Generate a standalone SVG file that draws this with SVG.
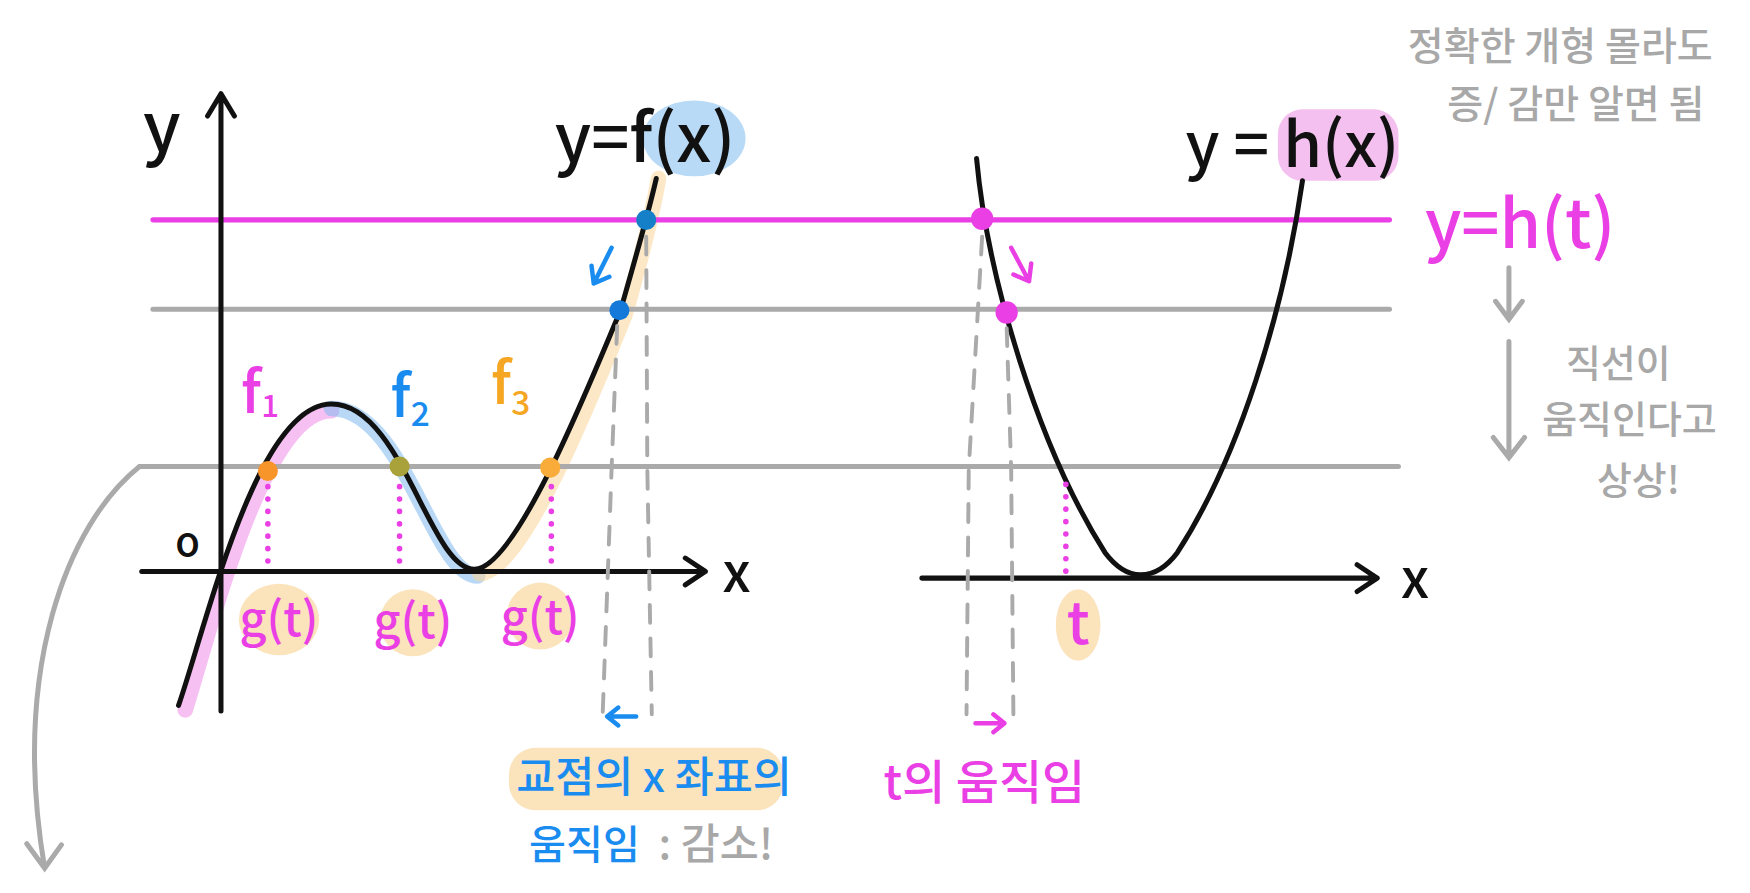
<svg xmlns="http://www.w3.org/2000/svg" width="1750" height="893" viewBox="0 0 1750 893">
<defs>
<style>
.ax{fill:none;stroke:#111;stroke-width:4.5;stroke-linecap:round;stroke-linejoin:round}
.crv{fill:none;stroke:#111;stroke-width:4.5;stroke-linecap:round}
.mg{fill:none;stroke:#ea3fe4;stroke-width:4.5;stroke-linecap:round}
.gr{fill:none;stroke:#aaaaaa;stroke-width:4.5;stroke-linecap:round}
.dash{fill:none;stroke:#aaaaaa;stroke-width:3.5;stroke-linecap:round;stroke-dasharray:16 14}
.dot{fill:none;stroke:#ea3fe4;stroke-width:5;stroke-linecap:round;stroke-dasharray:0.1 11}
.hl{fill:none;stroke-width:14;stroke-linecap:round;opacity:0.55}
.t{font-family:"Noto Sans CJK KR","Noto Sans",sans-serif;font-weight:500}
.blk{fill:#111}
.mgt{fill:#ea3fe4}
.blt{fill:#1a8cf0}
.grt{fill:#a8a8a8}
.ort{fill:#f5a623}
</style>
</defs>
<rect width="1750" height="893" fill="#ffffff"/>
<g transform="scale(1.11607)">
<g id="highlights">
<ellipse cx="622" cy="124" rx="46" ry="34" fill="#b9daf6"/>
<rect x="1145" y="98" width="108" height="64" rx="22" fill="#f4c0f0"/>
<ellipse cx="250" cy="555" rx="36" ry="32" fill="#fbe3bc"/>
<ellipse cx="370" cy="558" rx="30" ry="30" fill="#fbe3bc"/>
<ellipse cx="484" cy="552" rx="30" ry="30" fill="#fbe3bc"/>
<ellipse cx="966" cy="560" rx="20" ry="32" fill="#fbe3bc"/>
<rect x="456" y="670" width="246" height="56" rx="24" fill="#fbe3bc"/>
<path class="hl" stroke="#f08ce8" d="M166,636 C190,560 236,368 297,368"/>
<path class="hl" stroke="#7fb8ee" d="M297,366 C362,366 388,516 428,516"/>
<path class="hl" stroke="#f9d597" d="M430,514 C468,510 525,368 560,282 C572,240 584,196 590,160"/>
</g>
<g id="levels">
<line class="mg" x1="137" y1="197" x2="1245" y2="197"/>
<line class="gr" x1="137" y1="277" x2="1245" y2="277"/>
<line class="gr" x1="130" y1="418" x2="1253" y2="418"/>
</g>
<g id="left-axes">
<path class="ax" d="M198,637 L198,84 M186,104 L198,84 L210,104"/>
<path class="ax" d="M127,512 L632,512 M614,500 L632,512 L614,524"/>
<text class="t blk" x="145" y="136" font-size="62" text-anchor="middle">y</text>
<text class="t blk" x="660" y="530" font-size="48" text-anchor="middle">x</text>
<text class="t blk" x="168" y="498" font-size="36" text-anchor="middle">o</text>
</g>
<g id="curve-f">
<path class="crv" d="M160,632 C185,560 230,362 297,362 C360,362 385,510 425,510 C460,510 520,365 556,278 C568,236 580,195 588,160"/>
<text class="t blk" x="578" y="145" font-size="60" text-anchor="middle">y=f(x)</text>
</g>
<g id="right-axes">
<path class="ax" d="M826,518 L1234,518 M1216,506 L1234,518 L1216,530"/>
<text class="t blk" x="1268" y="536" font-size="48" text-anchor="middle">x</text>
</g>
<g id="curve-h">
<path class="crv" d="M875,142 C885,250 930,400 990,495 Q1005,515 1022,515 Q1040,515 1055,495 C1110,410 1150,280 1167,162"/>
<text class="t blk" x="1158" y="150" font-size="56" text-anchor="middle">y = h(x)</text>
</g>
<g id="connectors">
<line class="dot" x1="240" y1="436" x2="240" y2="510"/>
<line class="dot" x1="358" y1="436" x2="358" y2="510"/>
<line class="dot" x1="494" y1="436" x2="494" y2="510"/>
<line class="dot" x1="955" y1="434" x2="955" y2="512"/>
<path class="dash" d="M579,212 L580,420 L584,640"/>
<path class="dash" d="M553,292 L548,420 L540,640"/>
<path class="dash" d="M880,212 L868,420 L866,640"/>
<path class="dash" d="M902,294 L906,420 L908,640"/>
<path class="gr" d="M137,418 L125,418 C60,470 10,600 40,778 M24,756 L40,778 L55,757"/>
<path class="gr" d="M1352,240 L1352,286 M1340,270 L1352,286 L1364,270"/>
<path class="gr" d="M1352,306 L1352,410 M1338,392 L1352,410 L1366,392"/>
<path fill="none" stroke="#1a8cf0" stroke-width="4" stroke-linecap="round" stroke-linejoin="round" d="M548,222 L532,254 M530,238 L532,254 L546,248"/>
<path fill="none" stroke="#ea3fe4" stroke-width="4" stroke-linecap="round" stroke-linejoin="round" d="M906,222 L922,252 M924,236 L922,252 L908,246"/>
<path fill="none" stroke="#1a8cf0" stroke-width="4" stroke-linecap="round" stroke-linejoin="round" d="M570,642 L544,642 M554,634 L544,642 L554,650"/>
<path fill="none" stroke="#ea3fe4" stroke-width="4" stroke-linecap="round" stroke-linejoin="round" d="M874,648 L900,648 M890,640 L900,648 L890,656"/>
</g>
<g id="points">
<circle cx="240" cy="422" r="9" fill="#f7942a"/>
<circle cx="358" cy="418" r="9" fill="#a9a23a"/>
<circle cx="493" cy="419" r="9" fill="#f9ac3a"/>
<circle cx="555" cy="278" r="9" fill="#1479d8"/>
<circle cx="579" cy="197" r="9" fill="#1580c8"/>
<circle cx="880" cy="196" r="10" fill="#ea3fe4"/>
<circle cx="902" cy="280" r="10" fill="#ea3fe4"/>
</g>
<g id="labels">
<text class="t mgt" x="216" y="370" font-size="52">f<tspan font-size="28" dy="4">1</tspan></text>
<text class="t blt" x="350" y="374" font-size="52">f<tspan font-size="30" dy="8">2</tspan></text>
<text class="t ort" x="440" y="362" font-size="52">f<tspan font-size="30" dy="10">3</tspan></text>
<text class="t mgt" x="250" y="570" font-size="42" text-anchor="middle">g(t)</text>
<text class="t mgt" x="370" y="572" font-size="42" text-anchor="middle">g(t)</text>
<text class="t mgt" x="484" y="568" font-size="42" text-anchor="middle">g(t)</text>
<text class="t mgt" x="966" y="577" font-size="52" text-anchor="middle">t</text>
<text class="t mgt" x="1362" y="222" font-size="60" text-anchor="middle">y=h(t)</text>
<text class="t grt" x="1398" y="54" font-size="35" text-anchor="middle">정확한 개형 몰라도</text>
<text class="t grt" x="1412" y="106" font-size="35" text-anchor="middle">증/ 감만 알면 됨</text>
<text class="t grt" x="1450" y="338" font-size="34" text-anchor="middle">직선이</text>
<text class="t grt" x="1460" y="388" font-size="34" text-anchor="middle">움직인다고</text>
<text class="t grt" x="1468" y="443" font-size="34" text-anchor="middle">상상!</text>
<text class="t blt" x="586" y="710" font-size="38" text-anchor="middle">교점의 x 좌표의</text>
<text class="t blt" x="474" y="770" font-size="36">움직임</text>
<text class="t grt" x="590" y="770" font-size="38">: 감소!</text>
<text class="t mgt" x="882" y="716" font-size="42" text-anchor="middle">t의 움직임</text>
</g>
</g>
</svg>
